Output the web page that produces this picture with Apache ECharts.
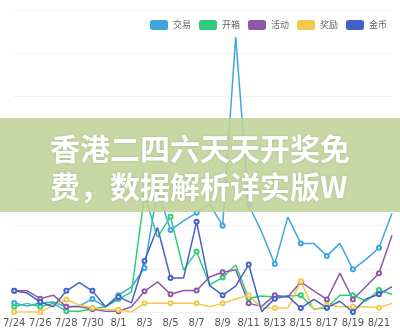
<!DOCTYPE html>
<html><head><meta charset="utf-8">
<script src="https://cdn.jsdelivr.net/npm/echarts@6/dist/echarts.min.js"></script>
<style>html,body{margin:0;padding:0;background:#fff}#c{width:400px;height:333px}</style>
</head><body><div id="c"></div>
<script>
var categories = ['7/24','7/25','7/26','7/27','7/28','7/29','7/30','7/31','8/1','8/2','8/3','8/4','8/5','8/6','8/7','8/8','8/9','8/10','8/11','8/12','8/13','8/14','8/15','8/16','8/17','8/18','8/19','8/20','8/21','8/22'];
var seriesNames = ['交易','开箱','活动','奖励','金币'];
var jiaoyi = [21,14,21,23,12,14,30,12,39,58,102,283,190,211,230,250,200,637,248,185,111,220,159,159,130,159,99,122,149,229];
var kaixiang = [12,20,12,20,2,2,7,12,30,46,271,173,221,97,140,63,80,109,32,37,35,37,39,7,10,39,39,25,51,41];
var huodong = [49,49,31,39,12,12,7,2,2,12,48,70,41,50,50,81,92,98,20,13,39,35,70,49,29,90,29,59,90,178];
var jiangli = [0,0,0,16,29,16,10,5,5,0,20,20,20,20,20,12,20,30,39,9,9,9,71,5,16,12,12,12,10,20];
var jinbi = [49,44,23,12,49,68,49,12,35,21,118,196,79,79,209,61,39,60,110,1,31,37,9,29,10,25,0,30,41,59];
var bannerLines = ['香港二四六天天开奖免','费，数据解析详实版W'];

var colors = ['#3ea6dd','#2ecc7d','#8e58a8','#f2c94c','#4262c8'];
var dataAll = [jiaoyi,kaixiang,huodong,jiangli,jinbi];
var chart = echarts.init(document.getElementById('c'));
chart.setOption({
  animation:false,
  color: colors,
  legend:{
    right:8, top:15, itemWidth:18, itemHeight:10, itemGap:8, icon:'roundRect',
    textStyle:{color:'#666', fontSize:9, fontFamily:'Noto Sans CJK SC'},
    data: seriesNames
  },
  grid:{left:10,right:8,top:10,bottom:21,containLabel:false},
  xAxis:{
    type:'category', boundaryGap:false, data:categories,
    axisLine:{show:false}, axisTick:{show:false},
    axisLabel:{interval:1, color:'#555', fontSize:10, margin:6, fontFamily:'DejaVu Sans'}
  },
  yAxis:{
    type:'value', min:0, max:700, interval:100,
    axisLabel:{show:false}, axisLine:{show:false}, axisTick:{show:false},
    splitLine:{lineStyle:{color:'#eef0f2'}}
  },
  series: seriesNames.map(function(n,i){
    return {name:n, type:'line', data:dataAll[i], symbol:'emptyCircle', symbolSize:4,
      showAllSymbol:false,
      lineStyle:{width:1.5}, itemStyle:{color:colors[i]}};
  }),
  graphic:[
    {type:'rect', left:0, top:118, z:100, shape:{width:400,height:94},
     style:{fill:'rgba(192,211,152,0.88)'}},
    {type:'text', left:50, top:134, z:101,
     style:{text:bannerLines[0], fill:'#fff', font:'bold 30px "Noto Sans CJK SC"',
       textShadowColor:'rgba(0,0,0,0.15)', textShadowBlur:3}},
    {type:'text', left:50, top:172, z:101,
     style:{text:bannerLines[1], fill:'#fff', font:'bold 30px "Noto Sans CJK SC"',
       textShadowColor:'rgba(0,0,0,0.15)', textShadowBlur:3}}
  ]
});
</script></body></html>
